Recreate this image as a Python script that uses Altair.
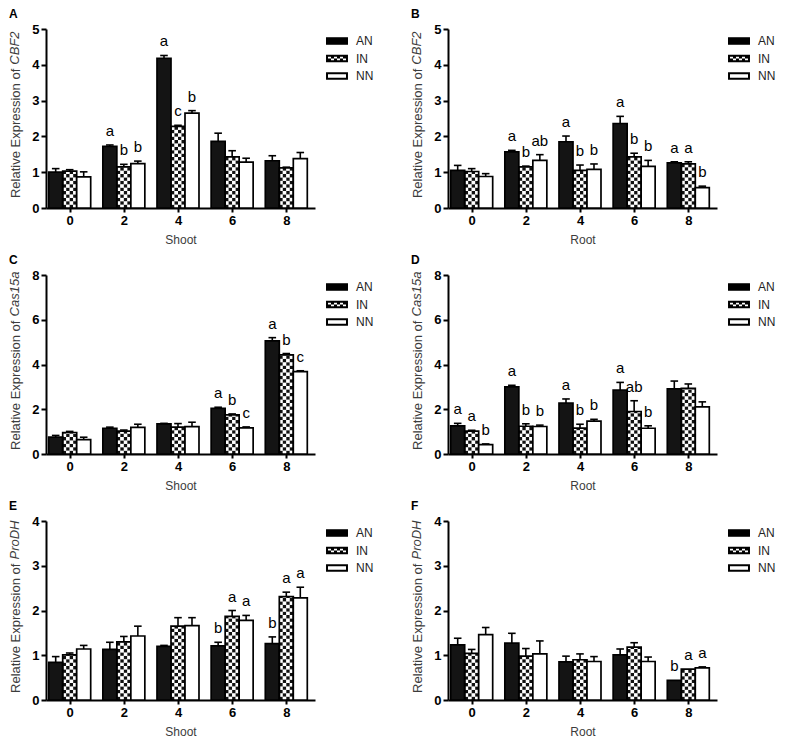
import math
import altair as alt
import pandas as pd

times = [0, 2, 4, 6, 8]
groups = ["AN", "IN", "NN"]

# ---- Panel A: CBF2, shoot ----
A_AN = [1.00, 1.72, 4.18, 1.86, 1.32]
A_AN_err = [0.10, 0.04, 0.08, 0.23, 0.14]
A_IN = [1.03, 1.15, 2.28, 1.43, 1.12]
A_IN_err = [0.04, 0.07, 0.03, 0.17, 0.02]
A_NN = [0.87, 1.24, 2.65, 1.28, 1.38]
A_NN_err = [0.14, 0.07, 0.07, 0.11, 0.17]
A_sig_AN = ["", "a", "a", "", ""]
A_sig_IN = ["", "b", "c", "", ""]
A_sig_NN = ["", "b", "b", "", ""]

# ---- Panel B: CBF2, root ----
B_AN = [1.05, 1.57, 1.85, 2.36, 1.26]
B_AN_err = [0.14, 0.04, 0.16, 0.20, 0.03]
B_IN = [1.02, 1.15, 1.05, 1.43, 1.23]
B_IN_err = [0.08, 0.02, 0.15, 0.10, 0.06]
B_NN = [0.88, 1.33, 1.08, 1.16, 0.57]
B_NN_err = [0.08, 0.16, 0.15, 0.17, 0.04]
B_sig_AN = ["", "a", "a", "a", "a"]
B_sig_IN = ["", "b", "b", "b", "a"]
B_sig_NN = ["", "ab", "b", "b", "b"]

# ---- Panel C: Cas15a, shoot ----
C_AN = [0.75, 1.15, 1.35, 2.04, 5.06]
C_AN_err = [0.08, 0.05, 0.02, 0.05, 0.14]
C_IN = [0.96, 1.02, 1.20, 1.75, 4.43]
C_IN_err = [0.05, 0.05, 0.16, 0.04, 0.06]
C_NN = [0.64, 1.19, 1.22, 1.17, 3.68]
C_NN_err = [0.11, 0.14, 0.20, 0.04, 0.04]
C_sig_AN = ["", "", "", "a", "a"]
C_sig_IN = ["", "", "", "b", "b"]
C_sig_NN = ["", "", "", "c", "c"]

# ---- Panel D: Cas15a, root ----
D_AN = [1.26, 3.00, 2.28, 2.86, 2.91]
D_AN_err = [0.11, 0.07, 0.18, 0.34, 0.35]
D_IN = [1.02, 1.24, 1.16, 1.90, 2.93]
D_IN_err = [0.04, 0.11, 0.17, 0.48, 0.20]
D_NN = [0.42, 1.23, 1.47, 1.15, 2.11]
D_NN_err = [0.03, 0.06, 0.08, 0.11, 0.22]
D_sig_AN = ["a", "a", "a", "a", ""]
D_sig_IN = ["a", "b", "b", "ab", ""]
D_sig_NN = ["b", "b", "b", "b", ""]

# ---- Panel E: ProDH, shoot ----
E_AN = [0.84, 1.13, 1.20, 1.21, 1.26]
E_AN_err = [0.13, 0.16, 0.02, 0.08, 0.15]
E_IN = [1.01, 1.30, 1.65, 1.87, 2.31]
E_IN_err = [0.04, 0.12, 0.19, 0.13, 0.10]
E_NN = [1.14, 1.43, 1.66, 1.78, 2.28]
E_NN_err = [0.08, 0.22, 0.18, 0.11, 0.24]
E_sig_AN = ["", "", "", "b", "b"]
E_sig_IN = ["", "", "", "a", "a"]
E_sig_NN = ["", "", "", "a", "a"]

# ---- Panel F: ProDH, root ----
F_AN = [1.23, 1.27, 0.85, 1.01, 0.44]
F_AN_err = [0.15, 0.22, 0.13, 0.13, 0.01]
F_IN = [1.04, 0.98, 0.90, 1.18, 0.69]
F_IN_err = [0.09, 0.17, 0.13, 0.10, 0.01]
F_NN = [1.46, 1.03, 0.86, 0.86, 0.72]
F_NN_err = [0.16, 0.29, 0.11, 0.10, 0.02]
F_sig_AN = ["", "", "", "", "b"]
F_sig_IN = ["", "", "", "", "a"]
F_sig_NN = ["", "", "", "", "a"]

FONT = "Liberation Sans"
W, H = 269, 179
OFF = {"AN": -0.517, "IN": 0.0, "NN": 0.517}
HW = 0.2585
CAP = 0.14
XDOM = [-0.875, 9.06]
YT_SIZE = 13
TITLE_X = -27

# Arial / Liberation Sans advance widths (per 1000 em) for title layout
CW = {"R": 722, "e": 556, "l": 222, "a": 556, "t": 278, "i": 222, "v": 500, " ": 278,
      "E": 667, "x": 500, "p": 556, "r": 333, "s": 500, "o": 556, "n": 556, "f": 278,
      "C": 722, "B": 667, "F": 611, "2": 556, "1": 556, "5": 556, "P": 667, "D": 722, "H": 722}


def tw(s, fs):
    return sum(CW.get(c, 556) for c in s) * fs / 1000.0


# legend symbol paths (scaled by sqrt(size)/2)
P_AN = "M-1.22,-0.42H1.22V0.42H-1.22Z"
P_NN = "M-1.22,-0.42H1.22V0.42H-1.22Z M-1.0,-0.2V0.2H1.0V-0.2Z"


def in_path():
    p = "M-1.22,-0.42H1.22V0.42H-1.22Z"
    x0, x1, y0, y1 = -1.0, 1.0, -0.2, 0.2
    n = 6
    cw = (x1 - x0) / n
    ym = (y0 + y1) / 2
    for j in range(n):
        a = x0 + j * cw
        b = a + cw
        if j % 2 == 0:
            ya, yb = y0, ym
        else:
            ya, yb = ym, y1
        p += f" M{a:.3f},{ya:.3f}V{yb:.3f}H{b:.3f}V{ya:.3f}Z"
    return p


P_IN = in_path()


def panel(letter, organ, gene, ymax, ystep, means, errs, sigs):
    rows = []
    for g in groups:
        for i, t in enumerate(times):
            c = t + OFF[g]
            v = means[g][i]
            e = errs[g][i]
            rows.append({"series": g, "t": t, "x1": c - HW, "x2": c + HW, "xc": c,
                         "c1": c - CAP, "c2": c + CAP, "v": v, "zero": 0.0,
                         "top": v + e, "err": e, "sig": sigs[g][i]})
    df = pd.DataFrame(rows)

    th = ymax * 3.4 / H
    ncol = 4
    cwid = 2 * HW / ncol
    tiles = []
    for r in rows:
        if r["series"] != "IN":
            continue
        n = math.ceil(r["v"] / th)
        for k in range(n):
            for j in range(ncol):
                tiles.append({"tx1": r["x1"] + j * cwid, "tx2": r["x1"] + (j + 1) * cwid,
                              "ty1": k * th, "ty2": min((k + 1) * th, r["v"]),
                              "col": "#111111" if (k + j) % 2 == 0 else "#ffffff"})
    tdf = pd.DataFrame(tiles)

    # y title split: plain part from axis, gene part in italic
    w1 = tw("Relative Expression of", YT_SIZE)
    ws = tw(" ", YT_SIZE)
    wg = tw(gene, YT_SIZE)
    total = w1 + ws + wg
    cy = H / 2 - 4
    joint = cy + total / 2 - w1

    xs = alt.Scale(domain=XDOM, nice=False, zero=False)
    ys = alt.Scale(domain=[0, ymax], nice=False)
    xaxis = alt.Axis(values=times, format="d", title=organ, tickSize=4, titlePadding=7)
    yaxis = alt.Axis(values=list(range(0, ymax + 1, ystep)), format="d",
                     title="Relative Expression of", titleX=TITLE_X, titleY=joint,
                     titleAlign="right", titleBaseline="alphabetic", titleAngle=270,
                     titleFontSize=YT_SIZE, tickSize=5)

    X = lambda f: alt.X(f, type="quantitative", scale=xs, axis=xaxis)
    Y = lambda f: alt.Y(f, type="quantitative", scale=ys, axis=yaxis)

    tiles_l = alt.Chart(tdf).mark_rect().encode(
        x=X("tx1"), x2="tx2", y=Y("ty1"), y2="ty2",
        fill=alt.Fill("col:N", scale=None))
    bars = alt.Chart(df).mark_rect(stroke="black", strokeWidth=1.7).encode(
        x=X("x1"), x2="x2", y=Y("v"), y2="zero",
        fill=alt.Fill("series:N", scale=alt.Scale(domain=groups, range=["#141414", "transparent", "#ffffff"]),
                      legend=None))
    edf = df[df["err"] > 0.015]
    err = alt.Chart(edf).mark_rule(color="black", strokeWidth=1.6).encode(
        x=X("xc"), y=Y("v"), y2="top")
    caps = alt.Chart(edf).mark_rule(color="black", strokeWidth=1.6).encode(
        x=X("c1"), x2="c2", y=Y("top"))
    sdf = df[df["sig"] != ""]
    letters = alt.Chart(sdf).mark_text(font=FONT, fontSize=15, baseline="alphabetic", dy=-9,
                                       color="black").encode(
        x=X("xc"), y=Y("top"), text="sig:N")
    leg = alt.Chart(df).mark_point(filled=True, color="black", opacity=0).encode(
        x=X("xc"), y=Y("v"),
        shape=alt.Shape("series:N", scale=alt.Scale(domain=groups, range=[P_AN, P_IN, P_NN]),
                        legend=alt.Legend(title=None, orient="right", offset=10, padding=3,
                                          symbolSize=324, symbolOpacity=1, symbolStrokeWidth=0,
                                          symbolFillColor="black", labelFont=FONT,
                                          labelFontSize=12, labelColor="#222222",
                                          labelOffset=10, rowPadding=2.5)))
    gtxt = alt.Chart(pd.DataFrame({"g": [gene]})).mark_text(
        font=FONT, fontSize=YT_SIZE, fontStyle="italic", angle=270, align="left",
        baseline="alphabetic", color="#3c3c3c").encode(
        text="g:N", x=alt.value(TITLE_X), y=alt.value(joint - ws))

    return alt.layer(tiles_l, bars, err, caps, letters, leg, gtxt).properties(
        width=W, height=H,
        title=alt.TitleParams(letter, anchor="start", fontSize=12, fontWeight="bold",
                              font=FONT, color="black", offset=2))


def d(a, b, c):
    return {"AN": a, "IN": b, "NN": c}


pA = panel("A", "Shoot", "CBF2", 5, 1, d(A_AN, A_IN, A_NN), d(A_AN_err, A_IN_err, A_NN_err),
           d(A_sig_AN, A_sig_IN, A_sig_NN))
pB = panel("B", "Root", "CBF2", 5, 1, d(B_AN, B_IN, B_NN), d(B_AN_err, B_IN_err, B_NN_err),
           d(B_sig_AN, B_sig_IN, B_sig_NN))
pC = panel("C", "Shoot", "Cas15a", 8, 2, d(C_AN, C_IN, C_NN), d(C_AN_err, C_IN_err, C_NN_err),
           d(C_sig_AN, C_sig_IN, C_sig_NN))
pD = panel("D", "Root", "Cas15a", 8, 2, d(D_AN, D_IN, D_NN), d(D_AN_err, D_IN_err, D_NN_err),
           d(D_sig_AN, D_sig_IN, D_sig_NN))
pE = panel("E", "Shoot", "ProDH", 4, 1, d(E_AN, E_IN, E_NN), d(E_AN_err, E_IN_err, E_NN_err),
           d(E_sig_AN, E_sig_IN, E_sig_NN))
pF = panel("F", "Root", "ProDH", 4, 1, d(F_AN, F_IN, F_NN), d(F_AN_err, F_IN_err, F_NN_err),
           d(F_sig_AN, F_sig_IN, F_sig_NN))

HS = 33
VS = 9
row1 = alt.hconcat(pA, pB, spacing=HS).resolve_scale(shape="independent")
row2 = alt.hconcat(pC, pD, spacing=HS).resolve_scale(shape="independent")
row3 = alt.hconcat(pE, pF, spacing=HS).resolve_scale(shape="independent")

chart = alt.vconcat(row1, row2, row3, spacing=VS).resolve_scale(shape="independent").properties(
    padding={"left": 0, "top": 0, "right": 0, "bottom": 0}
).configure_view(stroke=None).configure_axis(
    grid=False, domainColor="black", domainWidth=2, tickColor="black", tickWidth=2,
    labelFont=FONT, labelFontSize=13, labelFontWeight="bold", labelColor="black",
    labelPadding=2, titleFont=FONT, titleFontSize=12, titleFontWeight="normal",
    titleColor="#3c3c3c"
)

chart.save("out.html", embed_options={"renderer": "svg", "actions": False})
